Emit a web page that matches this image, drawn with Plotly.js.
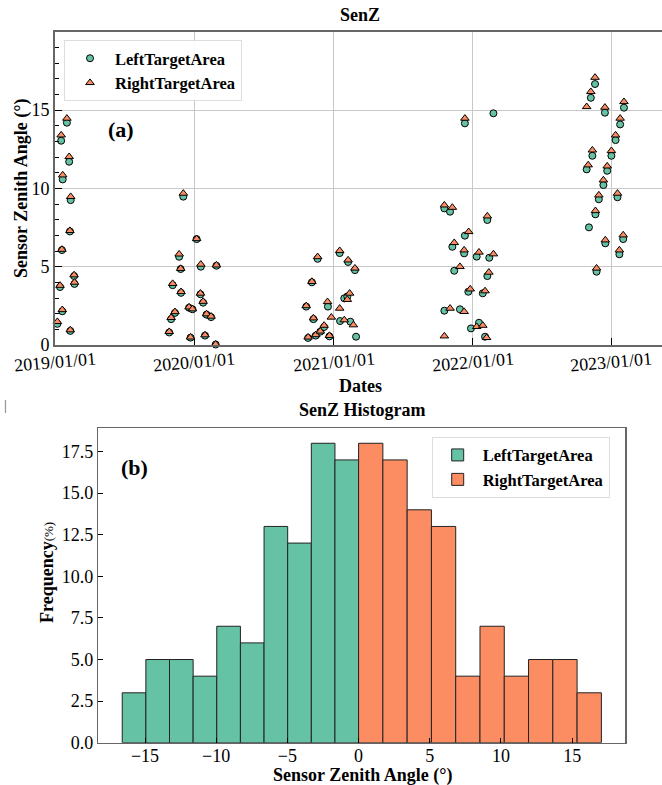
<!DOCTYPE html>
<html>
<head>
<meta charset="utf-8">
<script src="https://cdn.plot.ly/plotly-3.0.1.min.js"></script>
<style>html,body{margin:0;padding:0;background:#fff;}#chart{width:662px;height:785px;}</style>
</head>
<body>
<div id="chart"></div>
<script>
// ---------- (a) scatter data ----------
const leftDates = [
  '2019-01-06','2019-01-13','2019-01-16','2019-01-18','2019-01-19','2019-01-20','2019-01-31','2019-02-06','2019-02-08','2019-02-09','2019-02-10','2019-02-19','2019-02-20',
  '2019-10-27','2019-11-01','2019-11-05','2019-11-11','2019-11-22','2019-11-26','2019-11-27','2019-12-03','2019-12-18','2019-12-22','2019-12-27','2020-01-07','2020-01-17','2020-01-18','2020-01-24','2020-01-29','2020-02-02','2020-02-14','2020-02-26','2020-02-28',
  '2020-10-21','2020-10-26','2020-11-05','2020-11-09','2020-11-15','2020-11-20','2020-11-27','2020-12-07','2020-12-17','2020-12-21','2021-01-17','2021-01-18','2021-01-29','2021-02-06','2021-02-08','2021-02-14','2021-02-26','2021-03-01',
  '2021-10-19','2021-10-19','2021-11-03','2021-11-09','2021-11-14','2021-11-29','2021-12-10','2021-12-12','2021-12-12','2021-12-21','2021-12-28','2022-01-12','2022-01-18','2022-01-28','2022-02-03','2022-02-09','2022-02-09','2022-02-14','2022-02-25',
  '2022-10-28','2022-11-03','2022-11-08','2022-11-12','2022-11-19','2022-11-20','2022-11-23','2022-11-29','2022-12-11','2022-12-15','2022-12-16','2022-12-21','2023-01-01','2023-01-12','2023-01-17','2023-01-22','2023-01-24','2023-02-01','2023-02-03'
];
const leftValues = [
  1.35,3.70,13.04,6.06,2.15,10.57,14.19,11.70,7.25,0.90,9.25,4.40,3.90,
  0.80,1.65,3.82,2.05,5.63,4.85,3.33,9.47,2.38,0.47,2.28,6.76,3.24,5.00,2.70,0.60,1.94,1.78,0.03,5.06,
  2.45,0.45,4.00,1.65,0.60,5.50,0.85,1.15,2.45,0.55,5.87,1.53,2.98,3.10,5.30,1.49,4.78,0.53,
  8.72,2.19,8.51,6.27,4.74,2.28,5.85,14.15,6.98,3.40,1.06,5.64,1.42,3.30,0.53,7.98,4.40,5.57,14.79,
  11.21,7.51,15.78,12.08,16.66,8.34,4.68,9.30,10.21,14.83,6.49,11.12,12.08,13.08,9.43,5.79,14.08,6.76,15.15
];
const rightDates = [
  '2019-01-06','2019-01-13','2019-01-16','2019-01-18','2019-01-19','2019-01-20','2019-01-31','2019-02-06','2019-02-08','2019-02-09','2019-02-10','2019-02-19','2019-02-20',
  '2019-10-27','2019-11-01','2019-11-05','2019-11-11','2019-11-22','2019-11-26','2019-11-27','2019-12-03','2019-12-18','2019-12-22','2019-12-27','2020-01-07','2020-01-17','2020-01-18','2020-01-24','2020-01-29','2020-02-02','2020-02-14','2020-02-26','2020-02-28',
  '2020-10-21','2020-10-26','2020-11-05','2020-11-09','2020-11-15','2020-11-20','2020-11-27','2020-12-07','2020-12-16','2020-12-21','2020-12-26','2021-01-17','2021-01-17','2021-01-29','2021-02-06','2021-02-08','2021-02-12','2021-02-22','2021-02-26',
  '2021-10-19','2021-10-19','2021-11-03','2021-11-09','2021-11-14','2021-11-29','2021-12-10','2021-12-10','2021-12-12','2021-12-22','2021-12-26','2022-01-12','2022-01-18','2022-01-28','2022-02-03','2022-02-07','2022-02-09','2022-02-13','2022-02-25',
  '2022-10-28','2022-11-01','2022-11-08','2022-11-12','2022-11-19','2022-11-20','2022-11-23','2022-11-29','2022-12-11','2022-12-15','2022-12-16','2022-12-21','2023-01-01','2023-01-12','2023-01-17','2023-01-22','2023-01-24','2023-02-01','2023-02-03'
];
const rightValues = [
  1.49,3.80,13.40,6.10,2.25,10.85,14.47,12.02,7.30,0.96,9.47,4.47,4.00,
  0.85,1.75,3.92,2.12,5.80,4.88,3.40,9.68,2.42,0.50,2.30,6.78,3.30,5.15,2.78,0.64,1.98,1.83,0.05,5.10,
  2.50,0.50,4.05,1.72,0.65,5.63,0.88,1.25,2.76,0.60,1.77,6.02,2.34,1.60,2.90,5.42,3.30,1.28,4.90,
  8.93,0.57,2.34,8.78,6.53,5.00,2.13,6.06,14.47,7.23,3.57,1.17,5.92,1.25,3.45,0.47,8.23,4.64,5.81,
  15.21,11.49,16.17,12.44,17.08,8.57,4.90,9.57,10.53,15.17,6.70,11.42,12.40,13.40,9.68,6.06,14.47,7.02,15.53
];
const dateTickVals = ['2019-01-01','2020-01-01','2021-01-01','2022-01-01','2023-01-01'];
const dateTickText = ['2019/01/01','2020/01/01','2021/01/01','2022/01/01','2023/01/01'];
const dateRange = ['2018-12-30','2023-05-14'];

// ---------- (b) histogram data (frequency %, 10 bins per side) ----------
const leftFreq  = [3, 5, 5, 4, 7, 6, 13, 12, 18, 17];
const rightFreq = [18, 17, 14, 13, 4, 7, 4, 5, 5, 3];
const leftBinRange  = [-16.6, 0];
const rightBinRange = [0, 17.05];

const seriesNames = ['LeftTargetArea', 'RightTargetArea'];
const GREEN = '#66c2a5', ORANGE = '#fc8d62';
const FONT = '"Liberation Serif", "Times New Roman", Times, serif';

function binCenters(range, n) {
  const w = (range[1] - range[0]) / n;
  return {w: w, c: Array.from({length: n}, (_, i) => range[0] + (i + 0.5) * w)};
}
const lb = binCenters(leftBinRange, leftFreq.length);
const rb = binCenters(rightBinRange, rightFreq.length);

const traces = [
  {type: 'scatter', mode: 'markers', x: leftDates, y: leftValues, name: seriesNames[0],
   xaxis: 'x', yaxis: 'y', legend: 'legend', cliponaxis: false,
   marker: {symbol: 'circle', size: 7, color: GREEN, line: {color: '#000', width: 1}}},
  {type: 'scatter', mode: 'markers', x: rightDates, y: rightValues, name: seriesNames[1],
   xaxis: 'x', yaxis: 'y', legend: 'legend', cliponaxis: false,
   marker: {symbol: 'triangle-up', size: 7.5, color: ORANGE, line: {color: '#000', width: 1}}},
  {type: 'bar', x: lb.c, y: leftFreq, width: lb.c.map(() => lb.w), name: seriesNames[0],
   xaxis: 'x2', yaxis: 'y2', legend: 'legend2',
   marker: {color: GREEN, line: {color: '#222', width: 1}}},
  {type: 'bar', x: rb.c, y: rightFreq, width: rb.c.map(() => rb.w), name: seriesNames[1],
   xaxis: 'x2', yaxis: 'y2', legend: 'legend2',
   marker: {color: ORANGE, line: {color: '#222', width: 1}}}
];

const W = 662, H = 785;
const tickFont = {family: FONT, size: 18, color: '#000'};
const titleFont = {family: FONT, size: 18, color: '#000'};

// date tick labels: centred under each tick, slightly rotated
const dateLabelAnnotations = dateTickVals.map((d, i) => ({
  xref: 'x', yref: 'paper', x: d, y: 1 - 362/H, text: dateTickText[i], showarrow: false,
  textangle: -5, font: tickFont, xanchor: 'center', yanchor: 'middle'
}));

const layout = {
  width: W, height: H,
  margin: {l: 0, r: 0, t: 0, b: 0},
  paper_bgcolor: '#fff', plot_bgcolor: '#fff',
  font: {family: FONT, color: '#000'},
  showlegend: true,
  barmode: 'overlay',
  xaxis: {
    domain: [54.7/W, 1], anchor: 'y', type: 'date', range: dateRange,
    tickmode: 'array', tickvals: dateTickVals, ticktext: dateTickText, showticklabels: false,
    ticks: 'inside', ticklen: 7, tickcolor: '#000', tickwidth: 1,
    showgrid: true, gridcolor: '#c8c8c8', gridwidth: 1,
    showline: true, linecolor: '#666', linewidth: 1.5, mirror: true,
    zeroline: false
  },
  yaxis: {
    domain: [1 - 345/H, 1 - 31.7/H], anchor: 'x', range: [0, 20],
    tickmode: 'array', tickvals: [0, 5, 10, 15],
    ticks: 'inside', ticklen: 7, tickcolor: '#000',
    minor: {ticks: 'inside', dtick: 1, tick0: 0, ticklen: 4, tickcolor: '#000', showgrid: false},
    showgrid: true, gridcolor: '#c8c8c8', gridwidth: 1,
    showline: true, linecolor: '#666', linewidth: 1.5, mirror: false,
    zeroline: false, tickfont: tickFont
  },
  xaxis2: {
    domain: [98.3/W, 625.3/W], anchor: 'y2', range: [-18.28, 18.73],
    tickmode: 'linear', tick0: 0, dtick: 5,
    ticks: 'inside', ticklen: 5, tickcolor: '#000',
    ticklabelstandoff: -4,
    showgrid: false, zeroline: false,
    showline: true, linecolor: '#666', linewidth: 1.5, mirror: true,
    tickfont: tickFont
  },
  yaxis2: {
    domain: [1 - 742.7/H, 1 - 428.3/H], anchor: 'x2', range: [0, 18.9],
    tickmode: 'linear', tick0: 0, dtick: 2.5, tickformat: '.1f',
    ticks: 'inside', ticklen: 5, tickcolor: '#000',
    showgrid: false, zeroline: false,
    showline: true, linecolor: '#666', linewidth: 1.5, mirror: true,
    tickfont: tickFont
  },
  legend: {
    x: 64/W, y: 1 - 40/H, xanchor: 'left', yanchor: 'top',
    bgcolor: 'rgba(255,255,255,0.9)', bordercolor: '#dddddd', borderwidth: 1,
    font: {family: FONT, size: 16.5, color: '#000', weight: 'bold'},
    itemwidth: 40, tracegroupgap: 2
  },
  legend2: {
    x: 431.7/W, y: 1 - 436.7/H, xanchor: 'left', yanchor: 'top',
    bgcolor: 'rgba(255,255,255,0.9)', bordercolor: '#dddddd', borderwidth: 1,
    font: {family: FONT, size: 16.5, color: '#000', weight: 'bold'},
    itemwidth: 40
  },
  annotations: dateLabelAnnotations.concat([
    {xref: 'paper', yref: 'paper', x: 360/W, y: 1 - 15/H, text: '<b>SenZ</b>', showarrow: false,
     font: titleFont, xanchor: 'center', yanchor: 'middle'},
    {xref: 'paper', yref: 'paper', x: 362/W, y: 1 - 410/H, text: '<b>SenZ Histogram</b>', showarrow: false,
     font: titleFont, xanchor: 'center', yanchor: 'middle'},
    {xref: 'paper', yref: 'paper', x: 360/W, y: 1 - 386/H, text: '<b>Dates</b>', showarrow: false,
     font: titleFont, xanchor: 'center', yanchor: 'middle'},
    {xref: 'paper', yref: 'paper', x: 22/W, y: 1 - 189/H, text: '<b>Sensor Zenith Angle (°)</b>', showarrow: false,
     font: titleFont, textangle: -90, xanchor: 'center', yanchor: 'middle'},
    {xref: 'paper', yref: 'paper', x: 362/W, y: 1 - 775/H, text: '<b>Sensor Zenith Angle (°)</b>', showarrow: false,
     font: titleFont, xanchor: 'center', yanchor: 'middle'},
    {xref: 'paper', yref: 'paper', x: 47/W, y: 1 - 573/H, text: '<b>Frequency</b><span style="font-size:13px">(%)</span>', showarrow: false,
     font: titleFont, textangle: -90, xanchor: 'center', yanchor: 'middle'},
    {xref: 'paper', yref: 'paper', x: 106/W, y: 1 - 130/H, text: '<b>(a)</b>', showarrow: false,
     font: {family: FONT, size: 22}, xanchor: 'left', yanchor: 'middle'},
    {xref: 'paper', yref: 'paper', x: 119/W, y: 1 - 467/H, text: '<b>(b)</b>', showarrow: false,
     font: {family: FONT, size: 22}, xanchor: 'left', yanchor: 'middle'},
    {xref: 'paper', yref: 'paper', x: 5/W, y: 1 - 405/H, text: '|', showarrow: false,
     font: {family: FONT, size: 14, color: '#555'}, xanchor: 'center', yanchor: 'middle'}
  ])
};

Plotly.newPlot('chart', traces, layout, {staticPlot: true, displayModeBar: false});
</script>
</body>
</html>
